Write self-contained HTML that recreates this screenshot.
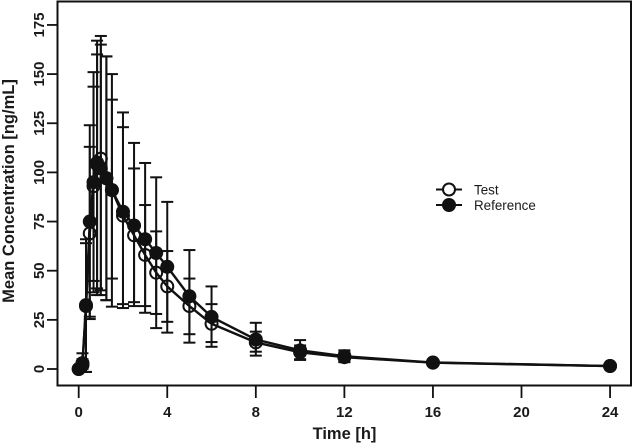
<!DOCTYPE html>
<html>
<head>
<meta charset="utf-8">
<style>
html,body{margin:0;padding:0;background:#fff;}
svg{display:block;}
text{font-family:"Liberation Sans",sans-serif;fill:#1a1a1a;}
</style>
</head>
<body>
<svg id="chart" width="633" height="444" viewBox="0 0 633 444" xmlns="http://www.w3.org/2000/svg"></svg>
<script>
const times = [0, 0.17, 0.33, 0.5, 0.67, 0.83, 1, 1.25, 1.5, 2, 2.5, 3, 3.5, 4, 5, 6, 8, 10, 12, 16, 24];
const testMean = [0, 3, 32, 69, 93, 105, 107, 97, 91, 78, 68, 58, 49, 42, 32, 23, 13.5, 8.5, 6, 3.2, 1.5];
const testUpper = [0, 5, 64, 113, 143.6, 167, 169.4, 159, 137, 123, 102, 83.4, 70, 60, 46, 33, 19, 12, 8.5, 4, 2];
const testLower = [0, 1, -1.5, 25.4, 44.8, 41, 40, 35, 46, 33, 34, 32, 28, 24, 17.7, 13.7, 8.8, 5, 3.5, 2.4, 1];
const refMean = [0, 2, 32.5, 75, 95, 104, 102, 97, 91, 80, 73, 66, 59, 52, 37, 26.5, 15, 9.5, 6.5, 3.3, 1.5];
const refUpper = [0, 8, 66, 124, 151, 160, 165, 159, 150, 130.5, 115, 104.8, 97.5, 85, 60.5, 42, 23.5, 14.7, 9.5, 4.2, 2];
const refLower = [0, 0, -1.5, 26.6, 39, 37.6, 37.6, 35, 31.7, 31, 32, 28.6, 20.8, 18.5, 13.4, 11.3, 6.8, 4.6, 3.5, 2.4, 1];
const xTicks = [0, 4, 8, 12, 16, 20, 24];
const yTicks = [0, 25, 50, 75, 100, 125, 150, 175];

const svg = document.getElementById('chart');
const NS = 'http://www.w3.org/2000/svg';
const ink = '#111';
function sx(t){ return 78.7 + t * 22.14; }
function sy(v){ return 369 - v * 1.966; }
function mk(tag, attrs, parent){
  const el = document.createElementNS(NS, tag);
  for (const k in attrs) el.setAttribute(k, attrs[k]);
  (parent || svg).appendChild(el);
  return el;
}

const frame = mk('rect', {x:57.5, y:1.5, width:573.5, height:384, fill:'#fff', stroke:ink, 'stroke-width':2});



xTicks.forEach(function(t){
  const tick = mk('line', {x1:sx(t), x2:sx(t), y1:386, y2:398, stroke:ink, 'stroke-width':1.8});
  
  
  const label = mk('text', {x:sx(t), y:417, 'text-anchor':'middle', 'font-size':15, 'font-weight':'bold'});
  label.textContent = t;
  
  
});
yTicks.forEach(function(v){
  const tick = mk('line', {x1:47, x2:57.5, y1:sy(v), y2:sy(v), stroke:ink, 'stroke-width':1.8});
  
  
  const label = mk('text', {x:0, y:0, transform:'translate(44 ' + sy(v) + ') rotate(-90)', 'text-anchor':'middle', 'font-size':15, 'font-weight':'bold'});
  label.textContent = v;
  
  
});

function drawBars(mean, upper, lower, name){
  const g = mk('g', {stroke:ink, 'stroke-width':2, fill:'none'});
  
  
  times.forEach(function(t, i){
    const x = sx(t);
    const stem = mk('line', {x1:x, x2:x, y1:sy(upper[i]), y2:sy(lower[i])}, g);
    
    
    const capTop = mk('line', {x1:x-6, x2:x+6, y1:sy(upper[i]), y2:sy(upper[i])}, g);
    
    
    const capBottom = mk('line', {x1:x-6, x2:x+6, y1:sy(lower[i]), y2:sy(lower[i])}, g);
    
    
  });
}
function drawSeries(mean, filled, name){
  const line = mk('polyline', {
    points: times.map(function(t, i){ return sx(t) + ',' + sy(mean[i]); }).join(' '),
    fill:'none', stroke:ink, 'stroke-width':2.4, 'stroke-linejoin':'round'
  });
  
  
  times.forEach(function(t, i){
    const pt = mk('circle', filled
      ? {cx:sx(t), cy:sy(mean[i]), r:7, fill:ink, stroke:'none'}
      : {cx:sx(t), cy:sy(mean[i]), r:6, fill:'none', stroke:ink, 'stroke-width':2});
    
    
  });
}
drawBars(testMean, testUpper, testLower, 'test');
drawBars(refMean, refUpper, refLower, 'reference');
drawSeries(testMean, false, 'test');
drawSeries(refMean, true, 'reference');
</script>
<script>
(function(){
  const s = document.getElementById('chart');
  const NSL = 'http://www.w3.org/2000/svg';
  function add(tag, attrs, txt){
    const el = document.createElementNS(NSL, tag);
    for (const k in attrs) el.setAttribute(k, attrs[k]);
    if (txt) el.textContent = txt;
    s.appendChild(el);
    return el;
  }
  const xTitle = add('text', {x:344.5, y:439, 'text-anchor':'middle', 'font-size':16.5, 'font-weight':'bold'}, 'Time [h]');
  
  
  const yTitle = add('text', {x:0, y:0, transform:'translate(14 191) rotate(-90)', 'text-anchor':'middle', 'font-size':16.5, 'font-weight':'bold'}, 'Mean Concentration [ng/mL]');
  
  

  const l1 = add('line', {x1:436, x2:462, y1:189.5, y2:189.5, stroke:'#111', 'stroke-width':2});
  
  
  const c1 = add('circle', {cx:449, cy:189.5, r:6, fill:'#fff', stroke:'#111', 'stroke-width':2});
  
  
  const t1 = add('text', {x:474, y:194.5, 'font-size':13.4}, 'Test');
  
  
  const l2 = add('line', {x1:436, x2:462, y1:205, y2:205, stroke:'#111', 'stroke-width':2});
  
  
  const c2 = add('circle', {cx:449, cy:205, r:7, fill:'#111'});
  
  
  const t2 = add('text', {x:474, y:210, 'font-size':13.4}, 'Reference');
  
  
})();
</script>
</body>
</html>
